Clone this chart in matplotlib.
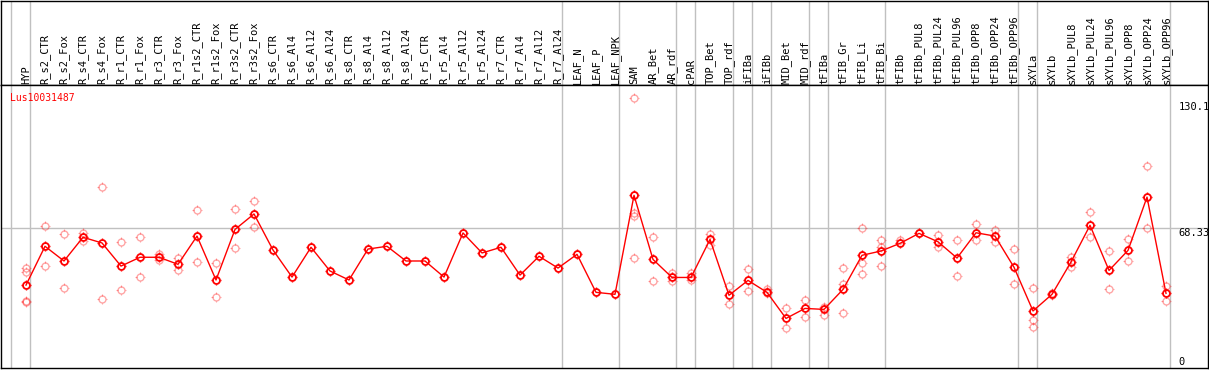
import numpy as np
import matplotlib
matplotlib.use("Agg")
import matplotlib.pyplot as plt
from matplotlib.path import Path

# nazwy prob (kolumny)
probki = ["HYP",
          "R_s2_CTR", "R_s2_Fox", "R_s4_CTR", "R_s4_Fox", "R_r1_CTR", "R_r1_Fox",
          "R_r3_CTR", "R_r3_Fox", "R_r1s2_CTR", "R_r1s2_Fox", "R_r3s2_CTR", "R_r3s2_Fox",
          "R_s6_CTR", "R_s6_Al4", "R_s6_Al12", "R_s6_Al24",
          "R_s8_CTR", "R_s8_Al4", "R_s8_Al12", "R_s8_Al24",
          "R_r5_CTR", "R_r5_Al4", "R_r5_Al12", "R_r5_Al24",
          "R_r7_CTR", "R_r7_Al4", "R_r7_Al12", "R_r7_Al24",
          "LEAF_N", "LEAF_P", "LEAF_NPK",
          "SAM", "AR_Bet", "AR_rdf", "cPAR", "TOP_Bet", "TOP_rdf",
          "iFIBa", "iFIBb", "MID_Bet", "MID_rdf",
          "tFIBa", "tFIB_Gr", "tFIB_Li", "tFIB_Bi",
          "tFIBb", "tFIBb_PUL8", "tFIBb_PUL24", "tFIBb_PUL96",
          "tFIBb_OPP8", "tFIBb_OPP24", "tFIBb_OPP96",
          "sXYLa", "sXYLb", "sXYLb_PUL8", "sXYLb_PUL24", "sXYLb_PUL96",
          "sXYLb_OPP8", "sXYLb_OPP24", "sXYLb_OPP96"]

# srednie
srednie = [39.1,
           58.9, 51.4, 63.5, 60.6, 48.8, 53.3, 53.3, 49.7, 64.1, 41.7, 67.5, 75.4,
           57.0, 43.2, 58.4, 46.3, 41.7, 57.5, 58.9, 51.4,
           51.4, 43.2, 65.7, 55.5, 58.4, 44.2, 53.8, 47.8,
           54.8, 35.4, 34.4,
           84.9, 52.2, 43.0, 43.0, 62.4, 33.9,
           41.5, 35.4, 22.1, 27.2,
           26.7, 36.9, 54.3, 56.5,
           60.4, 65.5, 61.2, 52.9, 65.8, 64.1, 48.2,
           25.9, 34.4, 50.9, 69.6, 46.6, 56.8, 84.0, 34.9]

# powtorzenia (replikaty)
powtorzenia = [[48.0, 45.6, 31.1, 30.6],
               [69.1, 48.8], [65.2, 37.6], [65.8, 61.4], [89.1, 32.0],
               [61.1, 36.6], [63.5, 43.0], [55.1, 51.9], [53.1, 46.6],
               [77.4, 50.9], [50.2, 33.0], [77.7, 58.0], [82.0, 68.6],
               [], [], [], [], [], [], [], [], [], [], [], [], [], [], [], [],
               [], [], [],
               [134.5, 76.0, 74.3, 52.7], [63.6, 41.0], [45.1, 41.0], [45.1, 41.5],
               [65.3, 59.4], [38.5, 29.3],
               [47.1, 35.9], [36.9, 34.9], [27.2, 17.0], [31.3, 23.0],
               [27.8, 23.7], [47.7, 39.5, 24.7], [68.1, 50.2, 44.6], [61.9, 58.4, 48.7],
               [61.9], [65.8], [64.6, 58.7], [61.9, 43.6], [70.1, 62.3], [67.2, 61.1], [57.3, 39.5],
               [37.4, 21.3, 17.9], [34.9, 33.9], [53.6, 48.2], [76.2, 63.5], [56.3, 36.9],
               [62.4, 51.2], [99.7, 68.1], [38.6, 31.0]]

# poczatki grup (granice kolumn)
granice = [0, 1, 29, 32, 35, 36, 38, 39, 40, 42, 43, 46, 53, 54, 61]
poziomy = [130.1, 68.33, 0]
gen_id = "Lus10031487"

W, H = 1209, 370
fig = plt.figure(figsize=(W / 100, H / 100), dpi=100)
ax_h = fig.add_axes([1 / W, 285 / H, 1207 / W, 84.5 / H])
ax = fig.add_axes([1 / W, 2 / H, 1207 / W, 283 / H])

x = np.arange(len(probki))
xlim = (-1.316, 62.21)
przes = 15 / 19

for a in (ax, ax_h):
    a.set_xlim(*xlim)
    a.set_xticks([])
    a.set_yticks([])
    for s in a.spines.values():
        s.set_color("black")
        s.set_linewidth(1.0)
    for g in granice:
        a.axvline(g - przes, color="#c0c0c0", lw=1.0, zorder=0)

ax_h.set_ylim(0, 1)
ax.set_ylim(-3.2, 141.2)
ax.axhline(poziomy[1], color="#c0c0c0", lw=1.0, zorder=0)

# naglowki kolumn
for i, nazwa in enumerate(probki):
    ax_h.text(i, 0.015, nazwa, rotation=90, ha="center", va="bottom",
              fontsize=7.5, family="DejaVu Sans Mono", color="black")

# marker: kolko z kreskami
r0, r1 = 0.7, 1.0
kreski = Path([(0, r0), (0, r1), (0, -r0), (0, -r1), (r0, 0), (r1, 0), (-r0, 0), (-r1, 0)],
              [Path.MOVETO, Path.LINETO] * 4)

# replikaty
for i, vals in enumerate(powtorzenia):
    if vals:
        xs = [i] * len(vals)
        ax.plot(xs, vals, "o", ms=5, mfc="none", mec="red", mew=1.0, alpha=0.35, zorder=2)
        ax.plot(xs, vals, ls="none", marker=kreski, ms=7.2, mec="red", mew=0.8, alpha=0.35, zorder=2)

ax.plot(x, srednie, "-", color="red", lw=1.0, zorder=3)
ax.plot(x, srednie, "o", ms=5, mfc="none", mec="red", mew=1.3, zorder=4)
ax.plot(x, srednie, ls="none", marker=kreski, ms=7.2, mec="red", mew=1.0, zorder=4)

# etykiety osi po prawej
tr = ax.get_yaxis_transform()
ax.text(0.9757, poziomy[0], "130.1", transform=tr, ha="left", va="center",
        fontsize=7.5, family="DejaVu Sans Mono")
ax.text(0.9757, poziomy[1], "68.33", transform=tr, ha="left", va="top",
        fontsize=7.5, family="DejaVu Sans Mono")
ax.text(0.9757, poziomy[2], "0", transform=tr, ha="left", va="center",
        fontsize=7.5, family="DejaVu Sans Mono")

ax.text(0.0075, 0.972, gen_id, transform=ax.transAxes, ha="left", va="top",
        fontsize=7, family="DejaVu Sans Mono", color="red")

fig.savefig("out.png", dpi=100)
